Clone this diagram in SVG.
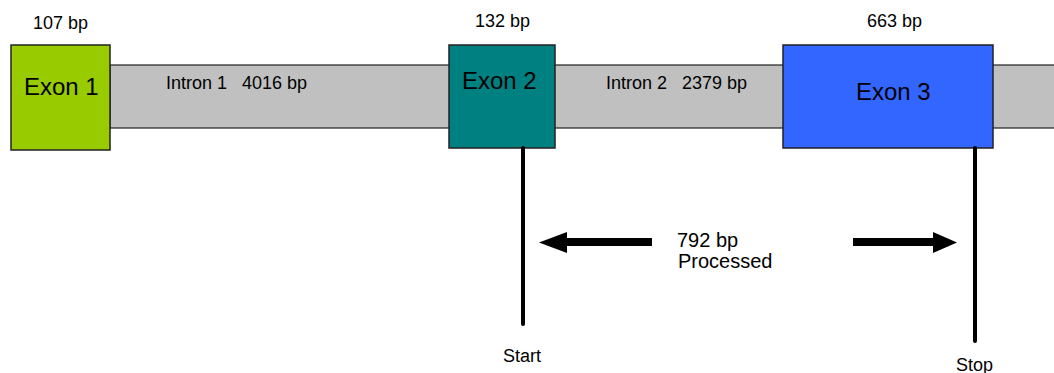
<svg xmlns="http://www.w3.org/2000/svg" width="1054" height="373" viewBox="0 0 1054 373">
<style>
text{font-family:"Liberation Sans",Arial,sans-serif;fill:#000;white-space:pre}
.sm{font-size:18px}
.ex{font-size:24px}
.md{font-size:20px}
.box{stroke:#222;stroke-width:1.5}
.vl{stroke:#000;stroke-width:4;stroke-linecap:round}
</style>
<rect width="1054" height="373" fill="#fff"/>
<g id="intron-bar">
<rect x="110" y="65" width="950" height="63" fill="#C0C0C0" stroke="#222" stroke-width="1.2"/>
<text class="sm" x="166" y="89" xml:space="preserve">Intron 1   4016 bp</text>
<text class="sm" x="606" y="89" xml:space="preserve">Intron 2   2379 bp</text>
</g>
<g id="exon1">
<rect class="box" x="11" y="45" width="99" height="105" fill="#99CC00"/>
<text class="ex" x="24" y="95">Exon 1</text>
<text class="sm" x="33" y="29">107 bp</text>
</g>
<g id="exon2">
<rect class="box" x="449" y="45" width="106" height="103" fill="#008080"/>
<text class="ex" x="462" y="89">Exon 2</text>
<text class="sm" x="475" y="27">132 bp</text>
</g>
<g id="exon3">
<rect class="box" x="783" y="45" width="210" height="103" fill="#3366FF"/>
<text class="ex" x="856" y="100">Exon 3</text>
<text class="sm" x="867" y="27">663 bp</text>
</g>
<g id="connectors">
<line class="vl" x1="523" y1="148" x2="523" y2="324"/>
<line class="vl" x1="975" y1="148" x2="975" y2="341"/>
<polygon points="652,238 567,238 567,232 539,242.5 567,253 567,246 652,246" fill="#000"/>
<polygon points="853,238 933,238 933,232 957,242.5 933,253 933,246 853,246" fill="#000"/>
</g>
<g id="labels">
<text class="md" x="677" y="247">792 bp</text>
<text class="md" x="678" y="268">Processed</text>
<text class="sm" x="503" y="362">Start</text>
<text class="sm" x="956" y="371">Stop</text>
</g>
</svg>
